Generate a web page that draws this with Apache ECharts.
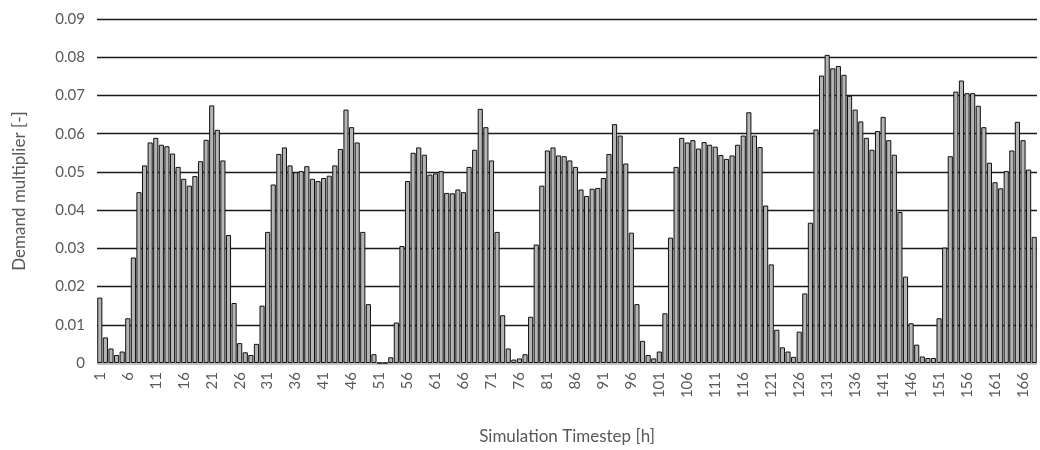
<!DOCTYPE html>
<html>
<head>
<meta charset="utf-8">
<script src="https://cdn.jsdelivr.net/npm/echarts@6/dist/echarts.min.js"></script>
<style>
  html, body { margin: 0; padding: 0; background: #fff; }
  #main { width: 1040px; height: 450px; }
</style>
</head>
<body>
<div id="main"></div>
<script>
// hourly demand multiplier, one week (168 h)
var demand = [
    0.0171, 0.0067, 0.0038, 0.0021, 0.0030, 0.0117, 0.0276, 0.0447, 0.0517, 0.0577, 0.0589, 0.0571,
    0.0567, 0.0548, 0.0513, 0.0482, 0.0464, 0.0489, 0.0528, 0.0584, 0.0674, 0.0610, 0.0530, 0.0335,
    0.0157, 0.0052, 0.0028, 0.0021, 0.0050, 0.0150, 0.0343, 0.0467, 0.0547, 0.0564, 0.0517, 0.0499,
    0.0502, 0.0515, 0.0482, 0.0476, 0.0484, 0.0490, 0.0517, 0.0560, 0.0663, 0.0617, 0.0577, 0.0343,
    0.0154, 0.0023, 0, 0, 0.0015, 0.0106, 0.0306, 0.0476, 0.0550, 0.0564, 0.0545, 0.0493,
    0.0496, 0.0502, 0.0445, 0.0444, 0.0454, 0.0447, 0.0513, 0.0558, 0.0665, 0.0617, 0.0530, 0.0343,
    0.0125, 0.0038, 0.0009, 0.0012, 0.0023, 0.0121, 0.0310, 0.0464, 0.0556, 0.0564, 0.0543, 0.0541,
    0.0530, 0.0513, 0.0454, 0.0437, 0.0456, 0.0458, 0.0484, 0.0547, 0.0625, 0.0595, 0.0522, 0.0341,
    0.0154, 0.0058, 0.0021, 0.0012, 0.0030, 0.0130, 0.0328, 0.0513, 0.0589, 0.0577, 0.0583, 0.0561,
    0.0578, 0.0571, 0.0566, 0.0544, 0.0534, 0.0543, 0.0571, 0.0595, 0.0656, 0.0595, 0.0565, 0.0412,
    0.0258, 0.0087, 0.0041, 0.0030, 0.0016, 0.0082, 0.0182, 0.0367, 0.0611, 0.0752, 0.0806, 0.0771,
    0.0777, 0.0754, 0.0699, 0.0663, 0.0632, 0.0589, 0.0558, 0.0607, 0.0644, 0.0583, 0.0545, 0.0395,
    0.0226, 0.0104, 0.0048, 0.0017, 0.0013, 0.0013, 0.0117, 0.0302, 0.0541, 0.0710, 0.0739, 0.0706,
    0.0706, 0.0673, 0.0617, 0.0524, 0.0473, 0.0457, 0.0502, 0.0556, 0.0631, 0.0583, 0.0506, 0.0330
];

// timestep labels 1..168
var timesteps = [];
for (var i = 1; i <= demand.length; i++) {
    timesteps.push(String(i));
}

var yMin = 0, yMax = 0.09, yStep = 0.01;

var myChart = echarts.init(document.getElementById('main'));
var fontFam = 'Lato, "Open Sans", sans-serif';

var option = {
    animation: false,
    grid: {
        left: 97,
        right: 3,
        top: 19,
        bottom: 86
    },
    xAxis: {
        type: 'category',
        data: timesteps,
        name: 'Simulation Timestep [h]',
        nameLocation: 'middle',
        nameGap: 65,
        nameTextStyle: {
            color: '#595959',
            fontFamily: fontFam,
            fontSize: 17
        },
        axisLine: {
            show: true,
            lineStyle: { color: '#bfbfbf', width: 1 }
        },
        axisTick: { show: false },
        axisLabel: {
            interval: 4,
            rotate: 90,
            margin: 9,
            color: '#595959',
            fontFamily: fontFam,
            fontSize: 15
        }
    },
    yAxis: {
        type: 'value',
        min: yMin,
        max: yMax,
        interval: yStep,
        name: 'Demand multiplier [-]',
        nameLocation: 'middle',
        nameGap: 69,
        nameTextStyle: {
            color: '#595959',
            fontFamily: fontFam,
            fontSize: 17
        },
        axisLine: { show: false },
        axisTick: { show: false },
        axisLabel: {
            margin: 12,
            color: '#595959',
            fontFamily: fontFam,
            fontSize: 15,
            formatter: function (v) {
                return v === 0 ? '0' : v.toFixed(2);
            }
        },
        splitLine: {
            show: true,
            lineStyle: { color: '#1a1a1a', width: 1.3 }
        }
    },
    series: [
        {
            name: 'Demand',
            type: 'bar',
            data: demand,
            barCategoryGap: '8%',
            itemStyle: {
                color: '#b4b4b4',
                borderColor: '#111',
                borderWidth: 1
            }
        }
    ]
};

myChart.setOption(option);
</script>
</body>
</html>
